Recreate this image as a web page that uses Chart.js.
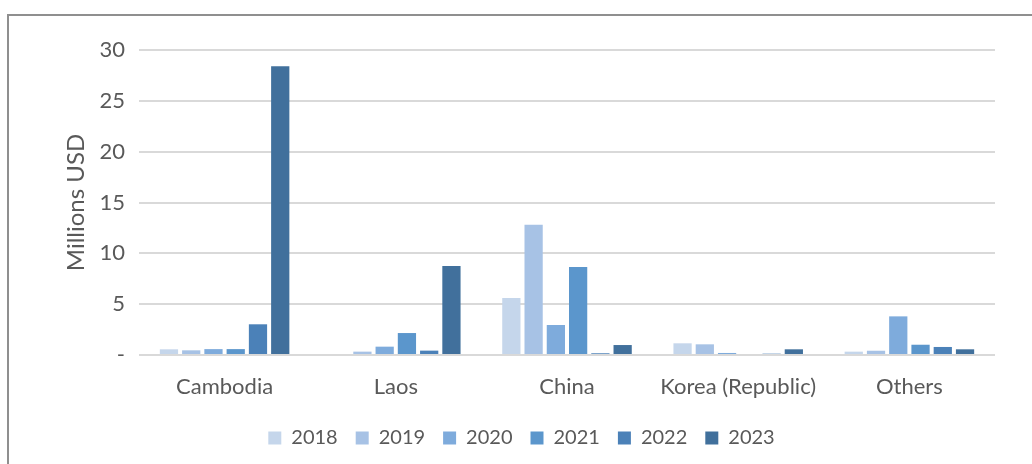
<!DOCTYPE html>
<html>
<head>
<meta charset="utf-8">
<script src="https://cdn.jsdelivr.net/npm/chart.js@4.4.1/dist/chart.umd.min.js"></script>
<style>
  html, body { margin: 0; padding: 0; background: #ffffff; }
  #wrap { position: relative; width: 1032px; height: 464px; }
  #frame { position: absolute; left: 7px; top: 14px; width: 1040px; height: 470px;
           border-left: 2px solid #8f8f8f; border-top: 2px solid #8f8f8f; }
  canvas { position: absolute; left: 0; top: 0; }
</style>
</head>
<body>
<div id="wrap">
  <div id="frame"></div>
  <canvas id="exportChart" width="1032" height="464"></canvas>
</div>
<script>
// values, millions USD
const countries = ["Cambodia", "Laos", "China", "Korea (Republic)", "Others"];
const years = ["2018", "2019", "2020", "2021", "2022", "2023"];
const v2018 = [0.56, 0, 5.6, 1.15, 0.33];
const v2019 = [0.46, 0.33, 12.8, 1.05, 0.42];
const v2020 = [0.58, 0.82, 2.95, 0.2, 3.8];
const v2021 = [0.58, 2.16, 8.65, 0, 1.01];
const v2022 = [3.02, 0.43, 0.17, 0.13, 0.79];
const v2023 = [28.4, 8.75, 0.98, 0.56, 0.56];
const yTicks = [0, 5, 10, 15, 20, 25, 30];

const seriesValues = [v2018, v2019, v2020, v2021, v2022, v2023];
const colours = ["#c5d6eb", "#a7c2e5", "#7eabdc", "#5b96cc", "#4b81b8", "#41709c"];

const textGrey = "#595959";
const fontName = "Lato, 'Noto Sans', sans-serif";

// legend in the original is centred on the whole frame, not the plot
const shiftLegend = {
    id: "shiftLegend",
    afterLayout(chart) {
        const lg = chart.legend;
        lg.left += 24;
        lg.right += 24;
    }
};

const ctx = document.getElementById("exportChart").getContext("2d");

const exportChart = new Chart(ctx, {
    type: "bar",
    data: {
        labels: countries,
        datasets: years.map((y, i) => ({
            label: y,
            data: seriesValues[i],
            backgroundColor: colours[i],
            borderWidth: 0,
            categoryPercentage: 0.78,
            barPercentage: 0.82
        }))
    },
    plugins: [shiftLegend],
    options: {
        responsive: false,
        animation: false,
        layout: { padding: { top: 50, right: 37, bottom: 6, left: 0 } },
        plugins: {
            tooltip: { enabled: false },
            legend: {
                position: "bottom",
                labels: {
                    color: textGrey,
                    font: { family: fontName, size: 20 },
                    boxWidth: 13,
                    boxHeight: 13,
                    padding: 18,
                    useBorderRadius: false
                }
            }
        },
        scales: {
            x: {
                grid: { display: false },
                border: { display: false },
                ticks: {
                    color: textGrey,
                    font: { family: fontName, size: 22 },
                    padding: 11
                },
                afterFit: (scale) => { scale.height = 55; }
            },
            y: {
                min: 0,
                max: 30,
                afterBuildTicks: (scale) => { scale.ticks = yTicks.map(v => ({ value: v })); },
                grid: { color: "#d9d9d9", lineWidth: 2, drawTicks: false },
                border: { display: false },
                ticks: {
                    color: textGrey,
                    font: { family: fontName, size: 22 },
                    padding: 14,
                    callback: (v) => v === 0 ? "-" : v
                },
                title: {
                    display: true,
                    text: "Millions USD",
                    color: textGrey,
                    font: { family: fontName, size: 24 },
                    padding: { top: 62, bottom: 0 }
                },
                afterFit: (scale) => { scale.width = 139; }
            }
        }
    }
});
</script>
</body>
</html>
